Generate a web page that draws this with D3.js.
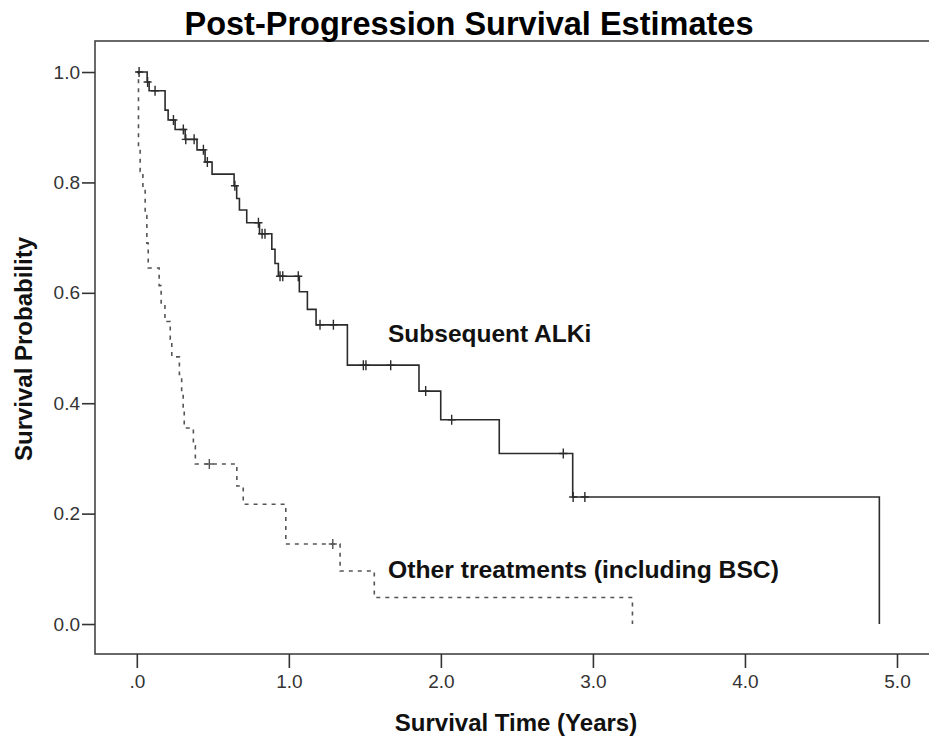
<!DOCTYPE html>
<html>
<head>
<meta charset="utf-8">
<script src="https://cdn.jsdelivr.net/npm/d3@7"></script>
<style>
  html, body { margin: 0; padding: 0; background: #fff; }
  svg { display: block; font-family: "Liberation Sans", Arial, sans-serif; }
</style>
</head>
<body>
<svg id="chart" width="929" height="738"></svg>
<script>
// Kaplan-Meier steps: survival becomes S at time t (years)
const alkiTimes = [0, 0.068, 0.081, 0.186, 0.206, 0.252, 0.318, 0.396, 0.449, 0.495,
  0.640, 0.657, 0.675, 0.723, 0.807, 0.888, 0.909, 0.931, 1.069, 1.122, 1.179,
  1.385, 1.856, 1.999, 2.384, 2.867, 4.884];
const alkiSurv = [1.0, 0.982, 0.966, 0.931, 0.913, 0.896, 0.878, 0.859, 0.837, 0.815,
  0.794, 0.771, 0.750, 0.727, 0.707, 0.679, 0.653, 0.630, 0.602, 0.570, 0.542,
  0.469, 0.422, 0.370, 0.309, 0.230, 0.0];
const alkiCensored = [0.015, 0.071, 0.120, 0.241, 0.306, 0.322, 0.377, 0.438, 0.464,
  0.645, 0.800, 0.824, 0.843, 0.942, 0.960, 1.062, 1.205, 1.293, 1.490, 1.507,
  1.670, 1.900, 2.071, 2.805, 2.870, 2.947];

const otherTimes = [0, 0.011, 0.022, 0.040, 0.055, 0.066, 0.075, 0.147, 0.160, 0.185,
  0.220, 0.230, 0.280, 0.295, 0.305, 0.312, 0.372, 0.385, 0.658, 0.700, 0.980,
  1.337, 1.562, 3.260];
const otherSurv = [1.0, 0.86, 0.82, 0.79, 0.74, 0.69, 0.645, 0.613, 0.580, 0.548,
  0.516, 0.484, 0.452, 0.419, 0.387, 0.355, 0.323, 0.290, 0.250, 0.217, 0.145,
  0.096, 0.048, 0.0];
const otherCensored = [0.477, 1.289];

const xTicks = [0, 1, 2, 3, 4, 5];
const yTicks = [0, 0.2, 0.4, 0.6, 0.8, 1.0];

const titleText = "Post-Progression Survival Estimates";
const xTitle = "Survival Time (Years)";
const yTitle = "Survival Probability";
const alkiLabel = "Subsequent ALKi";
const otherLabel = "Other treatments (including BSC)";

const svg = d3.select("#chart");
const plot = { left: 95, top: 41, bottom: 654, right: 935 };

const x = d3.scaleLinear().domain([-0.275, 5.25]).range([plot.left, plot.right]);
const y = d3.scaleLinear().domain([-0.0543, 1.0562]).range([plot.bottom, plot.top]);

// frame
svg.append("rect")
  .attr("x", plot.left).attr("y", plot.top)
  .attr("width", plot.right - plot.left).attr("height", plot.bottom - plot.top)
  .attr("fill", "none").attr("stroke", "#444").attr("stroke-width", 1.6);

const yAxis = svg.append("g")
  .attr("transform", `translate(${plot.left},0)`)
  .call(d3.axisLeft(y).tickValues(yTicks).tickSize(13).tickPadding(2)
    .tickFormat(d3.format(".1f")));
const xAxis = svg.append("g")
  .attr("transform", `translate(0,${plot.bottom})`)
  .call(d3.axisBottom(x).tickValues(xTicks).tickSize(14).tickPadding(7)
    .tickFormat(d => d === 0 ? ".0" : d.toFixed(1)));
[xAxis, yAxis].forEach(a => {
  a.select(".domain").remove();
  a.selectAll(".tick line").attr("stroke", "#333").attr("stroke-width", 1.6);
  a.selectAll(".tick text").attr("fill", "#333").attr("font-size", 19)
    .attr("font-family", "'Liberation Sans', Arial, sans-serif");
});

const line = d3.line().x(d => x(d[0])).y(d => y(d[1])).curve(d3.curveStepAfter);
const survAt = (times, surv, t) => surv[d3.bisectRight(times, t) - 1];

function drawCurve(times, surv, censored, style) {
  svg.append("path")
    .datum(times.map((t, i) => [t, surv[i]]))
    .attr("fill", "none")
    .attr("stroke", style.color)
    .attr("stroke-width", style.width)
    .attr("stroke-dasharray", style.dash)
    .attr("d", line);
  svg.append("g").selectAll("path")
    .data(censored)
    .join("path")
    .attr("fill", "none")
    .attr("stroke", style.color)
    .attr("stroke-width", 1.4)
    .attr("d", t => {
      const px = x(t), py = y(survAt(times, surv, t));
      return `M${px - 4},${py}h8M${px},${py - 5}v10`;
    });
}

drawCurve(otherTimes, otherSurv, otherCensored, { color: "#555", width: 1.6, dash: "4,5" });
drawCurve(alkiTimes, alkiSurv, alkiCensored, { color: "#2b2b2b", width: 1.6, dash: null });

// labels
svg.append("text").attr("x", 388).attr("y", 342)
  .attr("font-size", 24.5).attr("font-weight", "bold").attr("fill", "#111")
  .text(alkiLabel);
svg.append("text").attr("x", 388).attr("y", 578)
  .attr("font-size", 24.7).attr("font-weight", "bold").attr("fill", "#111")
  .text(otherLabel);

svg.append("text").attr("x", 469).attr("y", 35)
  .attr("text-anchor", "middle").attr("font-size", 32.5).attr("font-weight", "bold")
  .attr("fill", "#000").text(titleText);
svg.append("text").attr("x", 516).attr("y", 731)
  .attr("text-anchor", "middle").attr("font-size", 24).attr("font-weight", "bold")
  .attr("fill", "#111").text(xTitle);
svg.append("text")
  .attr("transform", "translate(32,349) rotate(-90)")
  .attr("text-anchor", "middle").attr("font-size", 24).attr("font-weight", "bold")
  .attr("fill", "#111").text(yTitle);
</script>
</body>
</html>
